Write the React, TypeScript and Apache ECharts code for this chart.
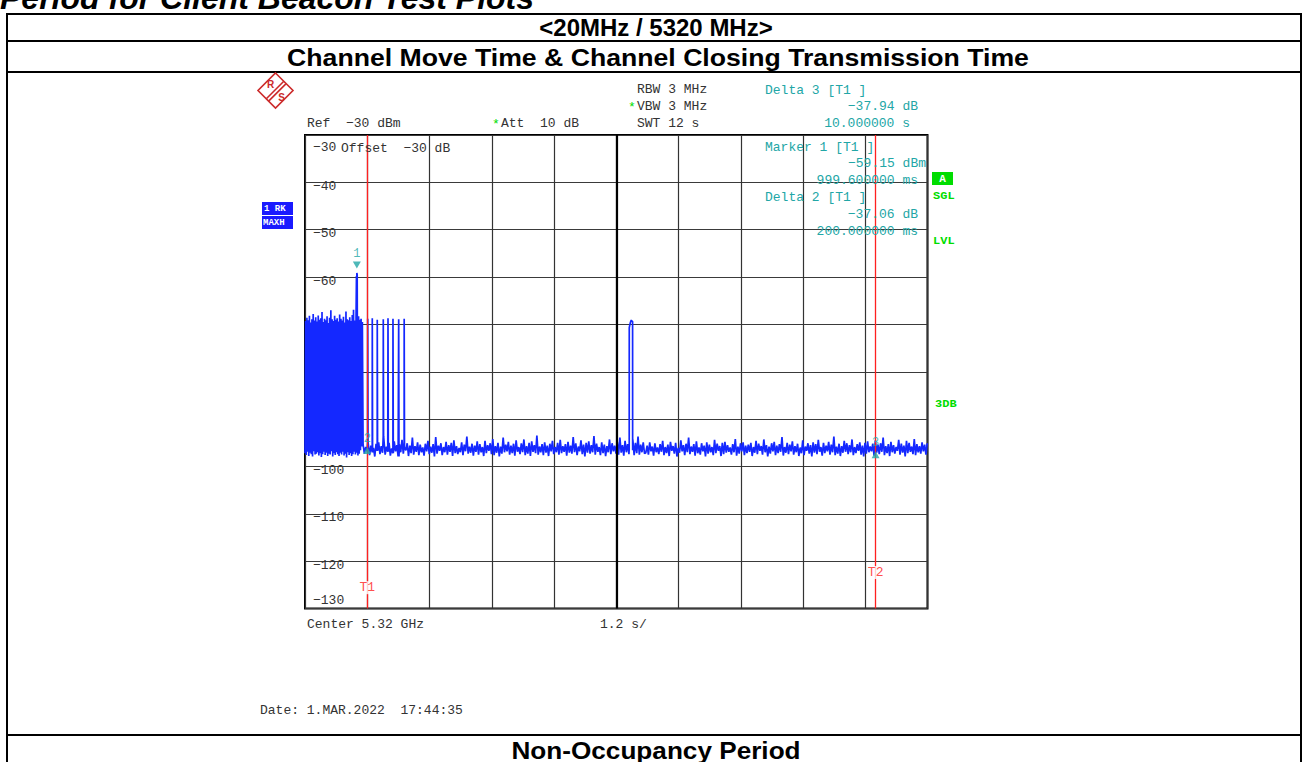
import React, { useEffect, useRef } from "react";
import * as echarts from "echarts";

// ---------------- data ----------------
const sweepTimeS = 12; // SWT 12 s
const timeDivisionS = 1.2; // 1.2 s/div
const levelMax = -30; // Ref -30 dBm
const levelMin = -130;
const levelDivision = 10;
const levelLabelValues = [-30, -40, -50, -60, -100, -110, -120, -130];

// dense burst region at the start of the sweep
const burstStartS = 0;
const burstStepS = 0.0243;
const burstPeaks = [
  -69.3, -68.6, -69.1, -68.2, -69.6, -68.9, -67.8, -69.2, -68.5, -69.4,
  -68.1, -69.0, -68.7, -67.4, -69.5, -68.8, -69.1, -68.3, -69.7, -68.6,
  -67.0, -68.9, -69.3, -68.2, -69.0, -68.7, -69.4, -67.9, -68.8, -69.2,
  -68.4, -69.6, -67.3, -68.9, -69.1, -68.5, -69.3, -68.0, -66.9, -69.2,
  -68.6, -69.4, -68.3, -69.0, -68.8, -69.5,
];
const burstFloors = [
  -97.2, -97.6, -96.9, -97.8, -97.1, -97.4, -97.9, -96.8, -97.5, -97.3,
  -97.0, -97.7, -97.2, -98.0, -97.4, -96.9, -97.6, -97.1, -97.8, -97.3,
  -97.5, -96.8, -97.9, -97.2, -97.6, -97.0, -97.4, -97.8, -97.1, -97.5,
  -96.9, -97.7, -97.3, -98.1, -97.0, -97.6, -97.2, -97.8, -97.4, -96.9,
  -97.5, -97.1, -97.7, -97.3, -96.6, -95.8,
];

// the peak read by Marker 1
const peakTimes = [0.992, 0.9996, 1.006];
const peakLevels = [-59.8, -59.15, -59.5];

// isolated transmissions after the burst block
const spikeTimes = [1.208, 1.296, 1.392, 1.508, 1.599, 1.695, 1.805, 1.911];
const spikeLevels = [-68.8, -68.7, -69.0, -68.9, -68.7, -68.8, -68.9, -68.8];

// short transmission near 6.3 s
const pulseTimes = [6.25, 6.251, 6.262, 6.275, 6.29, 6.303, 6.315, 6.316];
const pulseLevels = [-96.3, -70.7, -70.1, -69.5, -69.1, -69.3, -69.4, -96.6];

// noise floor after the burst block: one sweep point every 25 ms
const noiseStartS = 1.12;
const noiseStepS = 0.025;
const noiseLevels = [
  -95.4, -97.3, -95.9, -96.8, -94.8, -97.6, -95.6, -97.0, -96.1, -97.9,
  -95.2, -96.7, -94.9, -97.4, -95.7, -97.1, -93.6, -97.5, -95.8, -96.9,
  -95.0, -97.7, -96.2, -97.2, -94.7, -96.8, -95.5, -97.9, -95.3, -97.0,
  -94.4, -97.3, -95.9, -96.6, -95.1, -97.8, -95.6, -97.2, -93.9, -97.5,
  -95.7, -96.9, -94.9, -97.6, -95.4, -97.0, -96.0, -97.7, -95.2, -96.8,
  -94.6, -97.4, -95.8, -97.1, -95.3, -97.9, -93.8, -97.3, -95.6, -96.7,
  -95.1, -97.6, -95.9, -97.0, -94.8, -97.5, -95.5, -96.9, -95.0, -97.8,
  -94.5, -97.2, -95.7, -97.4, -96.1, -97.0, -94.9, -97.6, -95.4, -96.8,
  -93.7, -97.3, -95.8, -97.1, -95.2, -97.7, -95.6, -96.9, -94.7, -97.5,
  -95.3, -97.0, -95.9, -97.8, -94.6, -97.2, -95.5, -96.7, -95.1, -97.4,
  -94.2, -97.6, -95.7, -97.1, -95.0, -97.9, -95.8, -97.3, -93.9, -97.0,
  -95.4, -96.8, -94.8, -97.5, -95.6, -97.2, -95.2, -97.7, -94.5, -96.9,
  -95.9, -97.4, -95.1, -97.0, -94.3, -97.6, -95.7, -97.3, -95.0, -97.8,
  -94.7, -96.9, -95.5, -97.2, -93.5, -97.5, -95.8, -97.0, -95.3, -97.6,
  -94.9, -97.1, -95.6, -97.8, -95.2, -96.8, -94.6, -97.4, -95.9, -97.0,
  -95.0, -97.5, -94.4, -97.2, -95.7, -96.9, -95.3, -97.7, -94.8, -97.1,
  -95.6, -97.3, -93.8, -97.0, -95.1, -97.6, -95.8, -96.8, -94.5, -97.4,
  -95.4, -97.9, -95.0, -97.1, -94.7, -97.3, -95.5, -97.0, -93.6, -97.5,
  -95.2, -96.9, -95.9, -97.6, -94.9, -97.2, -95.4, -97.8, -95.7, -97.0,
  -94.3, -97.4, -95.1, -96.8, -95.6, -97.3, -94.8, -97.5, -93.9, -97.1,
  -95.5, -97.7, -94.6, -97.0, -95.3, -97.4, -95.8, -96.9, -94.4, -97.6,
  -95.0, -97.2, -93.7, -97.5, -95.4, -97.0, -94.9, -97.3,
  -97.1, -95.6, -97.5, -94.9, -96.8, -95.8, -97.7, -95.1, -97.0, -96.0,
  -97.4, -95.3, -96.9, -94.6, -97.6, -95.9, -97.2, -95.4, -97.8, -94.8,
  -96.7, -95.7, -97.3, -95.0, -97.9, -96.1, -97.1, -94.5, -96.8, -95.5,
  -97.6, -95.2, -97.0, -93.9, -97.4, -95.8, -96.9, -95.3, -97.7, -94.7,
  -97.2, -96.0, -97.5, -95.1, -96.8, -95.6, -97.9, -94.9, -97.3, -95.4,
  -97.0, -95.9, -97.6, -94.4, -97.2, -95.2, -96.7, -95.7, -97.8, -95.0,
  -97.4, -94.8, -97.1, -95.5, -96.9, -96.0, -97.5, -95.3, -97.0, -94.2,
  -97.7, -95.8, -97.3, -95.1, -96.8, -94.9, -97.6, -95.6, -97.2, -95.4,
  -96.9, -95.0, -97.8, -95.9, -97.1, -94.6, -97.4, -95.2, -96.7, -95.7,
  -97.5, -94.3, -97.0, -95.5, -97.9, -95.8, -97.3, -95.1, -96.8, -94.8,
  -97.6, -95.6, -97.2, -95.3, -96.9, -93.8, -97.7, -95.9, -97.1, -95.0,
  -97.4, -95.4, -96.8, -94.7, -97.5, -95.7, -97.0, -95.2, -97.8, -96.0,
  -97.2, -94.5, -97.6, -95.8, -96.7, -95.1, -97.3, -95.5, -97.9, -94.9,
  -97.1, -95.3, -97.4, -94.4, -96.9, -95.9, -97.7, -95.0, -97.2, -95.6,
  -96.8, -94.8, -97.5, -95.4, -97.0, -93.7, -97.6, -95.8, -97.3, -95.2,
  -97.8, -95.7, -97.1, -94.6, -96.9, -95.1, -97.4, -95.5, -97.0, -94.3,
  -97.6, -95.9, -97.2, -95.3, -96.7, -94.9, -97.5, -95.6, -97.9, -95.0,
  -97.3, -94.7, -97.0, -95.8, -96.8, -95.2, -97.7, -94.5, -97.1, -95.4,
  -97.4, -95.1, -96.9, -93.9, -97.6, -95.7, -97.2, -95.3, -97.8, -94.8,
  -97.0, -95.5, -97.3, -95.9, -96.7, -94.4, -97.5, -95.2, -97.1, -95.6,
  -97.9, -94.6, -97.2, -95.0, -96.9, -95.8, -97.4, -94.2, -97.6, -95.3,
  -97.0, -95.7, -97.3, -94.9, -96.8, -95.4, -97.5, -95.1,
];

// markers (time s, level dBm)
const markerNames = ["1", "2", "3"];
const markerTimes = [0.9996, 1.1996, 10.9996];
const markerLevels = [-59.15, -96.21, -97.09];

// display (time) lines
const timeLineNames = ["T1", "T2"];
const timeLineTimes = [1.2, 11.0];
const timeLineLabelLevels = [-125.6, -122.4];

// ---------------- styles ----------------
const MONO = '"Liberation Mono", "DejaVu Sans Mono", monospace';
const SANS = '"Liberation Sans", Arial, sans-serif';
const TXT = "#333333";
const TEAL = "#22a6a6";
const RED = "#ff2020";
const GREEN = "#00dd00";
const BLUE = "#1428ff";

const minus = (v: number) => (v < 0 ? "\u2212" + Math.abs(v) : String(v));

function buildTrace(): [number, number][] {
  const pts: [number, number][] = [];
  burstPeaks.forEach((p, i) => {
    const t = burstStartS + i * burstStepS;
    pts.push([t, burstFloors[i]]);
    pts.push([t + burstStepS / 2, p]);
  });
  peakTimes.forEach((t, i) => pts.push([t, peakLevels[i]]));
  const pStart = pulseTimes[0];
  const pEnd = pulseTimes[pulseTimes.length - 1];
  const free = (t: number) =>
    (t < pStart || t > pEnd) && spikeTimes.every((s) => t < s - 0.002 || t > s + 0.009);
  noiseLevels.forEach((v, i) => {
    const t = noiseStartS + i * noiseStepS;
    if (t <= sweepTimeS && free(t)) pts.push([t, v]);
  });
  spikeTimes.forEach((t, i) => {
    const idx = Math.min(noiseLevels.length - 1, Math.max(0, Math.round((t - noiseStartS) / noiseStepS)));
    const base = noiseLevels[idx];
    pts.push([t, base], [t + 0.001, spikeLevels[i]], [t + 0.006, spikeLevels[i]], [t + 0.007, base]);
  });
  pulseTimes.forEach((t, i) => pts.push([t, pulseLevels[i]]));
  pts.sort((a, b) => a[0] - b[0]);
  return pts;
}

function txt(x: number, y: number, text: string, opts: any = {}) {
  const align = opts.align || "left";
  const va = opts.va || "middle";
  return {
    type: "text",
    x,
    y,
    silent: true,
    scaleX: opts.scaleX ?? 1,
    scaleY: opts.scaleY ?? 1,
    z: 10,
    style: {
      text,
      fill: opts.color || TXT,
      font: opts.font || `13px ${MONO}`,
      align,
      verticalAlign: va,
      textAlign: align,
      textVerticalAlign: va,
    },
  };
}

function hline(y: number, x1: number, x2: number, w = 2) {
  return { type: "line", silent: true, shape: { x1, y1: y, x2, y2: y }, style: { stroke: "#000", lineWidth: w } };
}
function vline(x: number, y1: number, y2: number, w = 2) {
  return { type: "line", silent: true, shape: { x1: x, y1, x2: x, y2 }, style: { stroke: "#000", lineWidth: w } };
}

export default function App() {
  const ref = useRef<HTMLDivElement>(null);

  useEffect(() => {
    if (!ref.current) return;
    const chart = echarts.init(ref.current, undefined, { renderer: "svg" });
    const trace = buildTrace();
    const monoRich = { fontFamily: MONO, fontSize: 13, color: TXT };

    const graphic: any[] = [
      // page / table frame
      txt(0, 14, "Period for Client Beacon Test Plots", {
        font: `italic bold 32px ${SANS}`,
        color: "#000",
        va: "bottom",
      }),
      hline(14, 6, 1302),
      hline(41, 6, 1302),
      hline(72, 6, 1302),
      hline(735, 6, 1302),
      vline(7, 13, 762),
      vline(1301, 13, 762),
      txt(656, 27, "<20MHz / 5320 MHz>", { font: `bold 24px ${SANS}`, color: "#000", align: "center" }),
      txt(658, 57, "Channel Move Time & Channel Closing Transmission Time", {
        font: `bold 24px ${SANS}`,
        color: "#000",
        align: "center",
        scaleX: 1.11,
      }),
      txt(656, 750, "Non-Occupancy Period", { font: `bold 24px ${SANS}`, color: "#000", align: "center", scaleX: 1.09 }),

      // R&S logo
      {
        type: "polygon",
        silent: true,
        shape: { points: [[275.5, 73], [293, 90.5], [275.5, 108], [258, 90.5]] },
        style: { fill: "#fff", stroke: "#cc2a2a", lineWidth: 1.6 },
      },
      { type: "line", silent: true, shape: { x1: 266.3, y1: 98.8, x2: 283.8, y2: 81.3 }, style: { stroke: "#cc2a2a", lineWidth: 1.6 } },
      { type: "line", silent: true, shape: { x1: 268.6, y1: 101.1, x2: 286.1, y2: 83.6 }, style: { stroke: "#cc2a2a", lineWidth: 1.6 } },
      txt(270.5, 84, "R", { font: `bold 10px ${SANS}`, color: "#cc2a2a", align: "center" }),
      txt(281.5, 97.5, "S", { font: `bold 10px ${SANS}`, color: "#cc2a2a", align: "center" }),

      // instrument header
      txt(307, 123, "Ref  \u221230 dBm"),
      txt(492, 124, "*", { color: GREEN }),
      txt(501, 123, "Att  10 dB"),
      txt(637, 89, "RBW 3 MHz"),
      txt(628, 107, "*", { color: GREEN }),
      txt(637, 106, "VBW 3 MHz"),
      txt(637, 123, "SWT 12 s"),
      txt(765, 90, "Delta 3 [T1 ]", { color: TEAL }),
      txt(918, 106, "\u221237.94 dB", { color: TEAL, align: "right" }),
      txt(910, 123, "10.000000 s", { color: TEAL, align: "right" }),
      txt(765, 147, "Marker 1 [T1 ]", { color: TEAL }),
      txt(926, 163, "\u221259.15 dBm", { color: TEAL, align: "right" }),
      txt(918, 180, "999.600000 ms", { color: TEAL, align: "right" }),
      txt(765, 197, "Delta 2 [T1 ]", { color: TEAL }),
      txt(918, 214, "\u221237.06 dB", { color: TEAL, align: "right" }),
      txt(918, 231, "200.000000 ms", { color: TEAL, align: "right" }),
      txt(341, 148, "Offset  \u221230 dB"),

      // side annotations
      { type: "rect", silent: true, shape: { x: 932, y: 172, width: 21, height: 13 }, style: { fill: GREEN } },
      txt(942.5, 179, "A", { font: `bold 11px ${MONO}`, color: "#fff", align: "center" }),
      txt(933, 196, "SGL", { font: `bold 12px ${MONO}`, color: GREEN, scaleY: 0.85 }),
      txt(933, 241, "LVL", { font: `bold 12px ${MONO}`, color: GREEN, scaleY: 0.85 }),
      txt(935, 404, "3DB", { font: `bold 12px ${MONO}`, color: GREEN, scaleY: 0.85 }),
      { type: "rect", silent: true, shape: { x: 262, y: 202, width: 31, height: 13 }, style: { fill: "#1a1aff" } },
      { type: "rect", silent: true, shape: { x: 262, y: 216, width: 31, height: 13 }, style: { fill: "#1a1aff" } },
      txt(264, 209, "1 RK", { font: `bold 9px ${MONO}`, color: "#fff" }),
      txt(263, 223, "MAXH", { font: `bold 9px ${MONO}`, color: "#fff" }),

      // footer
      txt(307, 624, "Center 5.32 GHz"),
      txt(600, 624, "1.2 s/"),
      txt(260, 710, "Date: 1.MAR.2022  17:44:35"),
    ];

    chart.setOption({
      animation: false,
      backgroundColor: "#fff",
      grid: {
        left: 305,
        top: 135,
        width: 622.5,
        height: 473.5,
        show: true,
        borderColor: "#000",
        borderWidth: 2,
        backgroundColor: "transparent",
        containLabel: false,
      },
      xAxis: {
        type: "value",
        min: 0,
        max: sweepTimeS,
        interval: timeDivisionS,
        axisLine: { show: false },
        axisTick: { show: false },
        axisLabel: { show: false },
        splitLine: { show: true, lineStyle: { color: "#333", width: 1.2 } },
      },
      yAxis: {
        type: "value",
        min: levelMin,
        max: levelMax,
        interval: levelDivision,
        axisLine: { show: false },
        axisTick: { show: false },
        splitLine: { show: true, lineStyle: { color: "#3a3a3a", width: 1.2 } },
        axisLabel: {
          inside: true,
          margin: 8,
          showMinLabel: true,
          showMaxLabel: true,
          color: TXT,
          fontFamily: MONO,
          fontSize: 13,
          formatter: (v: number) => {
            if (!levelLabelValues.includes(v)) return "";
            const s = minus(v);
            if (v === levelMax) return `{top|${s}}`;
            if (v === levelMin) return `{bot|${s}}`;
            return `{mid|${s}}`;
          },
          rich: {
            top: { ...monoRich, padding: [24, 0, 0, 0] },
            mid: { ...monoRich, padding: [8, 0, 0, 0] },
            bot: { ...monoRich, padding: [0, 0, 16, 0] },
          },
        },
      },
      graphic,
      series: [
        {
          type: "line",
          name: "1 RK MAXH",
          data: trace,
          showSymbol: false,
          symbol: "none",
          silent: true,
          lineStyle: { color: BLUE, width: 1.7 },
          z: 3,
          markLine: {
            silent: true,
            symbol: ["none", "none"],
            label: { show: false },
            animation: false,
            data: [
              { xAxis: sweepTimeS / 2, lineStyle: { color: "#000", width: 2.2, type: "solid" } },
              ...timeLineTimes.map((t) => ({ xAxis: t, lineStyle: { color: RED, width: 1.3, type: "solid" } })),
            ],
          },
        },
        {
          type: "scatter",
          name: "markers",
          silent: true,
          z: 5,
          data: markerTimes.map((t, i) => ({
            value: [t, markerLevels[i]],
            symbol: "triangle",
            symbolSize: [8, 7],
            symbolRotate: i === 0 ? 180 : 0,
            symbolOffset: i === 0 ? [0, -8] : [0, 2],
            label: {
              show: true,
              position: "top",
              distance: 2,
              formatter: markerNames[i],
              color: TEAL,
              fontFamily: MONO,
              fontSize: 12,
            },
          })),
          itemStyle: { color: TEAL },
        },
        {
          type: "scatter",
          name: "time lines",
          silent: true,
          z: 6,
          symbolSize: 0,
          data: timeLineTimes.map((t, i) => ({
            value: [t, timeLineLabelLevels[i]],
            label: {
              show: true,
              position: "inside",
              formatter: timeLineNames[i],
              color: RED,
              fontFamily: MONO,
              fontSize: 13,
              backgroundColor: "#fff",
            },
          })),
        },
      ],
    });

    return () => chart.dispose();
  }, []);

  return (
    <div
      ref={ref}
      style={{ position: "absolute", left: 0, top: 0, width: 1309, height: 762, background: "#fff" }}
    />
  );
}
